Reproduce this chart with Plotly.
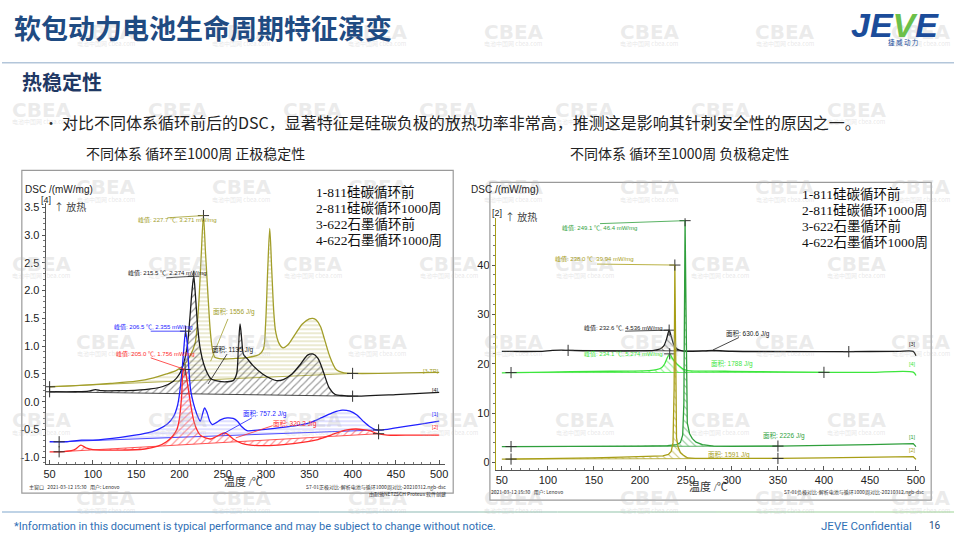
import numpy as np
import plotly.graph_objects as go

W, H = 960, 540
def px(x): return x / W
def py(y): return 1 - y / H

SANS = "Liberation Sans, Noto Sans CJK SC, sans-serif"
CJK = "Noto Sans CJK SC, Liberation Sans, sans-serif"
SERIF = "Liberation Serif, Noto Sans CJK SC, serif"

# ---------------- shared ----------------
temp_ticks = [50, 100, 150, 200, 250, 300, 350, 400, 450, 500]
series_labels = ["1-811硅碳循环前", "2-811硅碳循环1000周", "3-622石墨循环前", "4-622石墨循环1000周"]

# ---------------- left chart: cathode stability ----------------
cat_y_ticks = [-1.0, -0.5, 0.0, 0.5, 1.0, 1.5, 2.0, 2.5, 3.0, 3.5]
cat_y_ticktext = ["-1.0", "-0.5", "0.0", "0.5", "1.0", "1.5", "2.0", "2.5", "3.0", "3.5"]

cat1_x = [50, 70, 87, 100, 132, 160, 175, 186, 193, 198, 202, 205, 207, 209, 211, 213, 216, 220, 224, 227, 229, 232,
          235, 238, 243, 248, 255, 262, 267, 272, 278, 290, 310, 330, 350, 365, 378, 388, 397, 405, 413, 420, 426, 432,
          450, 475, 500]
cat1_y = [-0.72, -0.72, -0.69, -0.69, -0.64, -0.57, -0.5, -0.4, -0.27, -0.05, 0.4, 0.95, 1.27, 1.05, 0.55, 0.2, -0.02,
          -0.22, -0.35, -0.2, -0.11, -0.2, -0.35, -0.41, -0.37, -0.32, -0.29, -0.3, -0.35, -0.45, -0.52, -0.51, -0.48,
          -0.44, -0.38, -0.28, -0.19, -0.15, -0.17, -0.24, -0.36, -0.45, -0.5, -0.51, -0.47, -0.41, -0.35]
cat1_limits = [61, 430]

cat2_x = [50, 61, 75, 80, 86, 92, 100, 130, 160, 175, 185, 192, 197, 200, 202.5, 204.5, 206.5, 208.5, 211, 213.5,
          216.5, 220, 224, 230, 236, 242, 247, 252, 257, 263, 272, 282, 300, 320, 342, 360, 375, 385, 395, 404, 412,
          420, 428, 440, 470, 500]
cat2_y = [-0.9, -0.9, -0.88, -0.85, -0.78, -0.83, -0.86, -0.87, -0.85, -0.8, -0.72, -0.62, -0.5, -0.3, 0.1, 0.56,
          0.58, 0.4, 0.15, -0.1, -0.34, -0.5, -0.6, -0.65, -0.67, -0.63, -0.59, -0.56, -0.6, -0.68, -0.75, -0.78,
          -0.79, -0.77, -0.73, -0.68, -0.6, -0.54, -0.5, -0.49, -0.5, -0.52, -0.57, -0.6, -0.6, -0.6]
cat2_limits = [61, 430]

cat3_x = [50, 80, 120, 150, 170, 185, 197, 205, 212, 218, 222, 225, 227.7, 230, 233, 235.6, 238, 241, 250, 265, 280,
          292, 297, 299.5, 302, 304.3, 306.5, 309, 311, 315, 319.5, 325, 333, 342, 350, 354, 358, 363, 368, 374, 381,
          390, 400, 430, 460, 500]
cat3_y = [0.27, 0.29, 0.33, 0.37, 0.43, 0.5, 0.57, 0.66, 0.82, 1.05, 1.7, 2.6, 3.35, 2.7, 1.9, 1.27, 0.95, 0.8, 0.77,
          0.78, 0.8, 0.85, 0.95, 1.4, 2.4, 3.12, 2.4, 1.6, 1.27, 1.05, 0.97, 1.02, 1.2, 1.4, 1.49, 1.5, 1.47, 1.35,
          1.1, 0.8, 0.58, 0.52, 0.51, 0.51, 0.52, 0.53]
cat3_limits = [50, 400]

cat4_x = [50, 80, 95, 103, 110, 130, 160, 180, 193, 200, 205, 209, 212, 214.5, 216.5, 218.5, 221, 224, 228, 232, 236,
          245, 255, 262, 266, 268, 270, 272, 274, 278, 285, 296, 305, 312, 320, 330, 340, 348, 354, 360, 366, 373,
          380, 390, 400, 450, 500]
cat4_y = [0.18, 0.18, 0.19, 0.22, 0.2, 0.2, 0.22, 0.27, 0.37, 0.5, 0.7, 1.0, 1.5, 2.0, 2.26, 1.9, 1.35, 0.95, 0.68,
          0.52, 0.42, 0.37, 0.36, 0.38, 0.5, 0.95, 1.4, 1.1, 0.85, 0.78, 0.65, 0.5, 0.42, 0.38, 0.4, 0.5, 0.68, 0.84,
          0.86, 0.78, 0.55, 0.25, 0.13, 0.11, 0.1, 0.13, 0.17]
cat4_limits = [50, 400]

cat_peak_texts = ["峰值: 206.5 ℃, 2.355 mW/mg", "峰值: 205.0 ℃, 1.756 mW/mg",
                  "峰值: 227.7 ℃, 3.271 mW/mg", "峰值: 215.5 ℃, 2.274 mW/mg"]
cat_area_texts = ["面积: 757.2 J/g", "面积: 320.2 J/g", "面积: 1556 J/g", "面积: 1135 J/g"]
cat_tags = ["[1]", "[2]", "[3-TR]", "[4]"]

# ---------------- right chart: anode stability ----------------
an_y_ticks = [0, 10, 20, 30, 40]

an1_x = [50, 60, 150, 200, 230, 240, 244, 246.5, 247.8, 248.4, 249.1, 250.2, 250.8, 251.5, 254, 257, 261, 268, 280,
         300, 350, 400, 450, 497, 500]
an1_y = [3.2, 3.2, 3.25, 3.3, 3.4, 3.6, 4.0, 5.5, 12, 30, 49, 30, 10, 8, 5.8, 4.8, 4.1, 3.6, 3.3, 3.25, 3.3, 3.4,
         3.6, 3.8, 3.2]
an1_limits = [60, 350]

an2_x = [50, 60, 100, 150, 180, 200, 215, 225, 231, 234, 236, 237.2, 238.0, 239.0, 239.8, 241.5, 244, 247, 252, 260,
         300, 350, 400, 450, 497, 500]
an2_y = [0.65, 0.67, 0.75, 0.9, 1.05, 1.1, 1.15, 1.3, 1.6, 2.2, 4, 15, 40, 15, 5, 3.1, 2.0, 1.5, 0.9, 0.8, 0.75, 0.8,
         0.9, 1.0, 1.15, 0.6]
an2_limits = [60, 350]

an3_x = [50, 90, 105, 115, 122, 150, 200, 215, 222, 226, 229, 231.8, 234, 237, 241, 246, 255, 270, 280, 290, 300,
         350, 427, 480, 497, 500]
an3_y = [22.5, 22.5, 22.7, 22.75, 22.7, 22.6, 22.6, 22.7, 23.0, 23.6, 25.0, 26.8, 25.6, 23.8, 22.9, 22.6, 22.5, 22.6,
         22.7, 22.6, 22.5, 22.45, 22.45, 22.5, 22.5, 21.6]
an3_limits = [122, 427]

an4_x = [50, 60, 100, 150, 190, 210, 218, 223.5, 227, 230, 232.4, 235, 239, 243, 247, 252, 260, 280, 300, 350, 400,
         450, 497, 500]
an4_y = [18.15, 18.2, 18.3, 18.45, 18.5, 18.6, 18.8, 19.2, 20.0, 21.3, 22.0, 21.2, 20.2, 19.5, 18.9, 18.6, 18.5,
         18.5, 18.45, 18.35, 18.25, 18.25, 18.3, 17.6]
an4_limits = [60, 400]

an_peak_texts = ["峰值: 249.1 ℃, 46.4 mW/mg", "峰值: 238.0 ℃, 39.94 mW/mg",
                 "峰值: 232.6 ℃, 4.536 mW/mg", "峰值: 234.1 ℃, 5.274 mW/mg"]
an_area_texts = ["面积: 2226 J/g", "面积: 1591 J/g", "面积: 630.6 J/g", "面积: 1788 J/g"]
an_tags = ["[1]", "[2]", "[3]", "[4]"]

# ---------------- colours ----------------
C_BLUE, C_RED, C_OLIVE, C_BLACK = "#2020FF", "#FF2A2A", "#A29E2A", "#1A1A1A"
C_GREEN, C_OLIVE2, C_LIME = "#2F9F3C", "#A89E16", "#3DE63D"

fig = go.Figure()


def add_curve(x, y, lim, color, hatch, pattern, xa, ya, shape="spline", psize=5):
    xs = np.array(x, float)
    ys = np.array(y, float)
    a, b = lim
    ya_, yb_ = np.interp([a, b], xs, ys)
    m = (xs > a) & (xs < b)
    seg_x = [a] + list(xs[m]) + [b]
    seg_y = [ya_] + list(ys[m]) + [yb_]
    fig.add_trace(go.Scatter(x=[a, b], y=[ya_, yb_], mode="lines", line=dict(color=color, width=0.8),
                             xaxis=xa, yaxis=ya, hoverinfo="skip"))
    fig.add_trace(go.Scatter(x=seg_x, y=seg_y, mode="lines", line=dict(width=0, shape=shape, smoothing=0.8),
                             fill="tonexty", fillcolor="rgba(255,255,255,0)",
                             fillpattern=dict(shape=pattern, fgcolor=hatch, bgcolor="rgba(255,255,255,0)",
                                              size=psize, solidity=0.22),
                             xaxis=xa, yaxis=ya, hoverinfo="skip"))
    fig.add_trace(go.Scatter(x=xs, y=ys, mode="lines", line=dict(color=color, width=1.3, shape=shape, smoothing=0.8),
                             xaxis=xa, yaxis=ya))
    k = int(np.argmax(ys))
    fig.add_trace(go.Scatter(x=[a, b, xs[k]], y=[ya_, yb_, ys[k]], mode="markers",
                             marker=dict(symbol="cross-thin", size=8, line=dict(color="#333", width=1)),
                             xaxis=xa, yaxis=ya, hoverinfo="skip"))
    return xs[k], ys[k]


# left chart curves
pk_c3 = add_curve(cat3_x, cat3_y, cat3_limits, C_OLIVE, C_OLIVE, "-", "x", "y", psize=4)
pk_c4 = add_curve(cat4_x, cat4_y, cat4_limits, C_BLACK, "#333333", "/", "x", "y")
pk_c1 = add_curve(cat1_x, cat1_y, cat1_limits, C_BLUE, "#7070FF", "-", "x", "y", psize=4)
pk_c2 = add_curve(cat2_x, cat2_y, cat2_limits, C_RED, C_RED, "/", "x", "y")
# right chart curves
pk_a3 = add_curve(an3_x, an3_y, an3_limits, C_BLACK, "#333333", "\\", "x2", "y2")
pk_a4 = add_curve(an4_x, an4_y, an4_limits, C_LIME, C_LIME, "\\", "x2", "y2")
pk_a1 = add_curve(an1_x, an1_y, an1_limits, C_GREEN, C_GREEN, "\\", "x2", "y2", shape="linear")
pk_a2 = add_curve(an2_x, an2_y, an2_limits, C_OLIVE2, C_OLIVE2, "\\", "x2", "y2", shape="linear")

tickfont = dict(family=SANS, size=11, color="#222")
fig.update_layout(
    width=W, height=H, margin=dict(l=0, r=0, t=0, b=0),
    paper_bgcolor="white", plot_bgcolor="rgba(0,0,0,0)", showlegend=False,
    xaxis=dict(domain=[px(44), px(446.7)], range=[45.4, 506.7], anchor="y", tickmode="array", tickvals=temp_ticks,
               ticks="inside", ticklen=4, tickcolor="#555", showline=True, linecolor="#555", linewidth=1,
               showgrid=False, zeroline=False, tickfont=tickfont,
               minor=dict(tickmode="linear", tick0=50, dtick=10, ticks="inside", ticklen=2, tickcolor="#777")),
    yaxis=dict(domain=[py(464), py(202)], range=[-1.125, 3.572], anchor="x", tickmode="array", tickvals=cat_y_ticks,
               ticktext=cat_y_ticktext, ticks="outside", ticklen=3, tickcolor="#555", showline=True,
               linecolor="#555", linewidth=1, showgrid=False, zeroline=False, tickfont=tickfont,
               minor=dict(tickmode="linear", tick0=-1, dtick=0.1, ticks="outside", ticklen=2, tickcolor="#777")),
    xaxis2=dict(domain=[px(498), px(925)], range=[43.5, 503.6], anchor="y2", tickmode="array", tickvals=temp_ticks,
                ticks="inside", ticklen=4, tickcolor="#555", showline=True, linecolor="#555", linewidth=1,
                showgrid=False, zeroline=False, tickfont=tickfont,
                minor=dict(tickmode="linear", tick0=50, dtick=10, ticks="inside", ticklen=2, tickcolor="#777")),
    yaxis2=dict(domain=[py(470), py(217)], range=[-1.6, 49.5], anchor="x2", tickmode="array", tickvals=an_y_ticks,
                ticks="outside", ticklen=3, tickcolor="#555", showline=True, linecolor=C_OLIVE2, linewidth=1.2,
                showgrid=False, zeroline=False, tickfont=tickfont,
                minor=dict(tickmode="linear", tick0=0, dtick=2, ticks="outside", ticklen=2, tickcolor="#777")),
)

shapes = []
ann = []


def text(x, y, s, size=10, color="#222", family=CJK, xanchor="left", yanchor="middle", bold=False):
    ann.append(dict(x=px(x), y=py(y), xref="paper", yref="paper", text=(f"<b>{s}</b>" if bold else s),
                    showarrow=False, xanchor=xanchor, yanchor=yanchor,
                    font=dict(family=family, size=size, color=color)))


def hline(x0, y0, x1, y1, color, width=1.0):
    shapes.append(dict(type="line", xref="paper", yref="paper", x0=px(x0), y0=py(y0), x1=px(x1), y1=py(y1),
                       line=dict(color=color, width=width)))


def dline(xa, ya, x0, y0, x1, y1, color, width=0.8):
    shapes.append(dict(type="line", xref=xa, yref=ya, x0=x0, y0=y0, x1=x1, y1=y1, line=dict(color=color, width=width)))


# ---- watermarks ----
wm_rows = [30, 108, 186, 263, 341, 420, 498]
for r, yy in enumerate(wm_rows):
    start = 105 if r % 2 == 0 else 40
    for k in range(0, 7):
        xx = start + 137 * k
        if 30 < xx < 930:
            text(xx, yy, "CBEA", size=20, color="rgba(185,185,185,0.28)", family="DejaVu Sans", xanchor="center",
                 bold=True)
            text(xx, yy + 12, "电池中国网 cbea.com", size=6, color="rgba(185,185,185,0.35)", xanchor="center")

# ---- slide header ----
text(10, 26, "软包动力电池生命周期特征演变", size=27, color="#1F4B82", bold=True)
hline(0, 61, 960, 61, "#B3C6DA", 1.5)
text(18, 80, "热稳定性", size=20, color="#1F3864", bold=True)
text(40, 120, "•", size=14, color="#333")
text(58, 120, "对比不同体系循环前后的DSC，显著特征是硅碳负极的放热功率非常高，推测这是影响其针刺安全性的原因之一。",
     size=16, color="#222")
text(195, 152, "不同体系 循环至1000周 正极稳定性", size=14, color="#222", xanchor="center")
text(683, 152, "不同体系 循环至1000周 负极稳定性", size=14, color="#222", xanchor="center")

# logo
text(900, 23, "<i>JE<span style='color:#6CC04A'>V</span>E</i>", size=34, color="#1B4C9A",
     family="Liberation Sans", xanchor="center", bold=True)
text(909, 40, "捷 威 动 力", size=6.5, color="#1B4C9A", xanchor="center")

# footer
c0, c1 = np.array([170, 196, 222]), np.array([190, 226, 185])
for i in range(12):
    cc = (c0 + (c1 - c0) * i / 11).astype(int)
    hline(i * 80, 512, (i + 1) * 80, 512, f"rgb({cc[0]},{cc[1]},{cc[2]})", 1.5)
text(10, 526, "*Information in this document is typical performance and may be subject to change without notice.",
     size=11, color="#2F6FB5", family="Liberation Sans Narrow, Roboto, sans-serif")
text(920, 526, "JEVE Confidential", size=11.5, color="#2F6FB5", family="Liberation Sans Narrow, Roboto, sans-serif",
     xanchor="right")
text(941, 525, "16", size=10, color="#1F4B82", family="Liberation Sans Narrow, Roboto, sans-serif", xanchor="center")

# ---- frames ----
shapes.append(dict(type="rect", xref="paper", yref="paper", x0=px(20), y0=py(493), x1=px(455), y1=py(169),
                   line=dict(color="#9A9A9A", width=1.2)))
shapes.append(dict(type="rect", xref="paper", yref="paper", x0=px(492), y0=py(500), x1=px(937), y1=py(181),
                   line=dict(color="#9A9A9A", width=1.2)))

# ---- left chart texts ----
text(21, 188, "DSC /(mW/mg)", size=10, color="#222", family=SANS)
text(37, 199, "[4]", size=9, color="#222", family=SANS)
text(50, 205, "↑ 放热", size=10, color="#444")
for i, s in enumerate(series_labels):
    text(315, 191 + i * 16, s, size=13.5, color="#111", family=SERIF)
text(244, 481, "温度 /℃", size=11, color="#333", family=SERIF, xanchor="center")
text(25, 487, "主窗口   2021-03-12 15:30   用户: Lenovo", size=5, color="#333")
text(450, 487, "S7-01正极对比-解析电池与循环1000周对比-20210312.ngb-dsc", size=5, color="#333", xanchor="right")
text(450, 494, "由耐驰NETZSCH Proteus 软件创建", size=5, color="#333", xanchor="right")

text(135, 219, cat_peak_texts[2], size=6, color=C_OLIVE, family=SANS)
text(125, 272, cat_peak_texts[3], size=6, color=C_BLACK, family=SANS)
text(111, 326, cat_peak_texts[0], size=6, color=C_BLUE, family=SANS)
text(113, 353, cat_peak_texts[1], size=6, color=C_RED, family=SANS)
text(211, 311, cat_area_texts[2], size=6.5, color=C_OLIVE, family=SANS)
text(210, 349, cat_area_texts[3], size=6.5, color=C_BLACK, family=SANS)
text(241, 413, cat_area_texts[0], size=6.5, color=C_BLUE, family=SANS)
text(271, 423, cat_area_texts[1], size=6.5, color=C_RED, family=SANS)
text(443, 370, cat_tags[2], size=5.5, color=C_OLIVE, family=SANS, xanchor="right")
text(443, 389, cat_tags[3], size=5.5, color=C_BLACK, family=SANS, xanchor="right")
text(443, 414, cat_tags[0], size=5.5, color=C_BLUE, family=SANS, xanchor="right")
text(443, 427, cat_tags[1], size=5.5, color=C_RED, family=SANS, xanchor="right")

dline("x", "y", 186, 3.31, pk_c3[0], pk_c3[1], C_OLIVE)
dline("x", "y", 184.8, 2.23, pk_c4[0], pk_c4[1], C_BLACK)
dline("x", "y", 166.8, 1.27, pk_c1[0], pk_c1[1], C_BLUE)
dline("x", "y", 166.8, 0.79, pk_c2[0], pk_c2[1], C_RED)
dline("x", "y", 256, 1.49, 236, 0.73, C_OLIVE)
dline("x", "y", 255, 0.86, 233, 0.32, C_BLACK)
dline("x", "y", 283.7, -0.29, 249, -0.59, C_BLUE)
dline("x", "y", 307.7, -0.43, 265, -0.65, C_RED)

# ---- right chart texts ----
text(471, 188, "DSC /(mW/mg)", size=10, color="#222", family=SANS)
text(492, 212, "[2]", size=9, color="#222", family=SANS)
text(505, 215, "↑ 放热", size=10, color="#444")
for i, s in enumerate(series_labels):
    text(805, 193 + i * 16, s, size=13.5, color="#111", family=SERIF)
text(712, 486, "温度 /℃", size=11, color="#333", family=SERIF, xanchor="center")
text(491, 492, "2021-03-12 15:30   用户: Lenovo", size=5, color="#333")
text(932, 492, "S7-01负极对比-解析电池与循环1000周对比-20210312.ngb-dsc", size=5, color="#333", xanchor="right")

text(563, 227, an_peak_texts[0], size=6, color=C_GREEN, family=SANS)
text(556, 258, an_peak_texts[1], size=6, color=C_OLIVE2, family=SANS)
text(585, 327, an_peak_texts[2], size=6, color=C_BLACK, family=SANS)
text(585, 353, an_peak_texts[3], size=6, color=C_LIME, family=SANS)
text(728, 333, an_area_texts[2], size=6.5, color=C_BLACK, family=SANS)
text(713, 363, an_area_texts[3], size=6.5, color=C_LIME, family=SANS)
text(765, 435, an_area_texts[0], size=6.5, color=C_GREEN, family=SANS)
text(710, 454, an_area_texts[1], size=6.5, color=C_OLIVE2, family=SANS)
text(924, 343, an_tags[2], size=5.5, color=C_BLACK, family=SANS, xanchor="right")
text(924, 363, an_tags[3], size=5.5, color=C_LIME, family=SANS, xanchor="right")
text(924, 437, an_tags[0], size=5.5, color=C_GREEN, family=SANS, xanchor="right")
text(924, 450, an_tags[1], size=5.5, color=C_OLIVE2, family=SANS, xanchor="right")

dline("x2", "y2", 156.7, 48.4, pk_a1[0], pk_a1[1], C_GREEN)
dline("x2", "y2", 153.4, 40.2, pk_a2[0], pk_a2[1], C_OLIVE2)
dline("x2", "y2", 184, 26.6, pk_a3[0], pk_a3[1], C_BLACK)
dline("x2", "y2", 307.5, 25.3, 279.5, 22.8, C_BLACK)

fig.update_layout(shapes=shapes, annotations=ann)
fig.write_html("out.html", config={"displayModeBar": False},
               post_script="document.body.style.margin='0';document.body.style.overflow='hidden';")
